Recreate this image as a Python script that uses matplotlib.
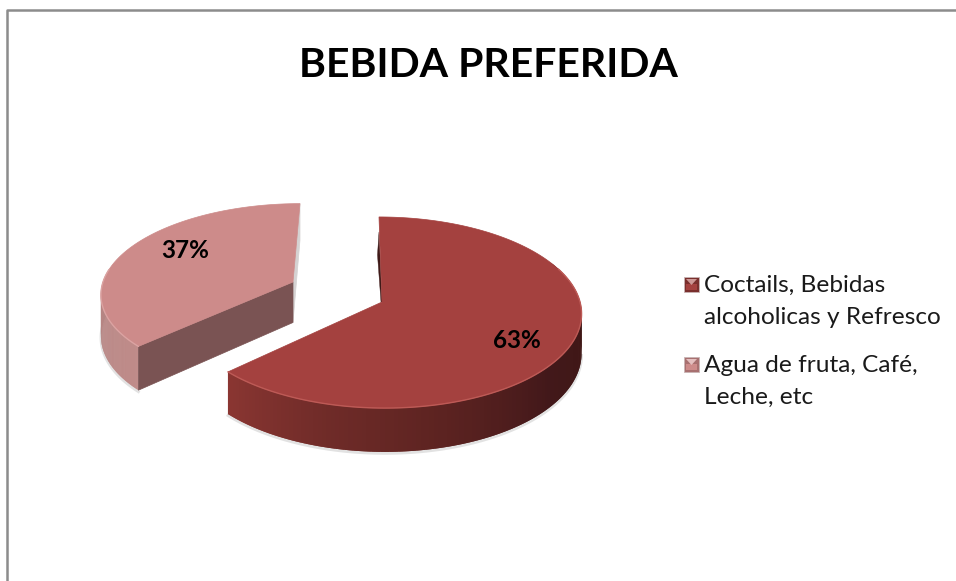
import numpy as np
import matplotlib
matplotlib.use("Agg")
import matplotlib.pyplot as plt
from matplotlib.colors import to_rgb
from matplotlib.patches import Rectangle, Polygon

plt.rcParams["font.family"] = ["Lato", "DejaVu Sans"]

titulo = "BEBIDA PREFERIDA"
categorias = ["Coctails, Bebidas\nalcoholicas y Refresco", "Agua de fruta, Café,\nLeche, etc"]
valores = [63, 37]
colores = ["#a4413f", "#cd8b8a"]

K = 0.11  # fake perspective


def punto(t, r, g):
    # t clockwise from the top in radians, g holds the wedge geometry
    u = r * np.sin(t)
    v = -r * np.cos(t)
    s = 1 / (1 - K * v)
    x = g["cx"] + g["rx"] * u * s + g["shear"] * v
    y = g["cy"] + g["ry"] * v * s
    return x, y, s * g["depth"]


def mezcla(c1, c2, f):
    return tuple(np.array(to_rgb(c1)) * (1 - f) + np.array(to_rgb(c2)) * f)


def pared(ax, t0, t1, g, stops, ts_sombra):
    # outer wall drawn as overlapping slices so the colour can change along it
    ts = np.linspace(t0, t1, 140)
    x, y, d = punto(ts, 1, g)
    xs, ys, ds = punto(ts_sombra, 1, g)
    ax.plot(xs, ys + ds + 1.5, color="#e2e2e2", lw=2, zorder=0.5)
    fs = np.linspace(0, 1, len(stops))
    for i in range(len(ts) - 1):
        f = (i + 0.5) / (len(ts) - 1)
        j = min(np.searchsorted(fs, f, side="right") - 1, len(stops) - 2)
        col = mezcla(stops[j], stops[j + 1], (f - fs[j]) / (fs[j + 1] - fs[j]))
        k = min(i + 2, len(ts) - 1)
        ax.fill([x[i], x[i + 1], x[k], x[k], x[i + 1], x[i]],
                [y[i], y[i + 1], y[k], y[k] + d[k], y[i + 1] + d[i + 1], y[i] + d[i]],
                color=col, lw=0)


def cara(ax, t, g, col):
    # flat cut face of the wedge
    x0, y0, d0 = punto(t, 0, g)
    x1, y1, d1 = punto(t, 1, g)
    ax.fill([x0, x1, x1, x0], [y0, y1, y1 + d1, y0 + d0], color=col, lw=0.5)


def tapa(ax, t0, t1, g, col, brillo, b0, b1):
    ts = np.linspace(t0, t1, 200)
    x, y, _ = punto(ts, 1, g)
    ax0, ay0, _ = punto(0.0, 0, g)
    ax.add_patch(Polygon(np.column_stack([np.r_[ax0, x], np.r_[ay0, y]]),
                         closed=True, facecolor=col, edgecolor=col, lw=0.5))
    # light rim only along the front edge
    tb = np.linspace(b0, b1, 120)
    xb, yb, _ = punto(tb, 1, g)
    ax.plot(xb, yb, color=brillo, lw=1.0, solid_capstyle="round")


fig = plt.figure(figsize=(9.56, 5.81), dpi=100)
ax = fig.add_axes([0, 0, 1, 1])
ax.set_xlim(0, 956)
ax.set_ylim(581, 0)
ax.axis("off")

# chart frame, only top and left show in the crop
ax.plot([7, 7, 956], [581, 10, 10], color="#8c8c8c", lw=1.8)

ax.text(488.5, 77, titulo, fontsize=29.5, fontweight="bold", color="black",
        ha="center", va="baseline")

fin = 2 * np.pi * valores[0] / sum(valores)
geo_rojo = {"cx": 382, "cy": 302, "rx": 198, "ry": 94.4, "shear": 3, "depth": 39}
geo_rosa = {"cx": 293, "cy": 282, "rx": 190, "ry": 87, "shear": -7, "depth": 40.5}

# light wedge
cara(ax, 2 * np.pi, geo_rosa, "#d5d2d2")
pared(ax, fin, fin + 0.85, geo_rosa, ["#c08c8a", "#b88684", "#b58583"],
      np.linspace(fin, fin + 0.85, 60))
cara(ax, fin, geo_rosa, "#7a5353")
tapa(ax, fin, 2 * np.pi, geo_rosa, colores[1], "#dba3a2", fin, fin + 0.9)

# dark wedge
x0, y0, _ = punto(0.0, 0, geo_rojo)
x1, y1, _ = punto(0.0, 1, geo_rojo)
ax.fill([x0, x1, x1 - 1.5, x0 - 1], [y0, y1 + 15, y1 + 38, y0], color="#3f1a18", lw=0.3)
pared(ax, 1.12, fin, geo_rojo, ["#451917", "#3f1715", "#42181a", "#5a2220", "#6f2b28", "#8a3632"],
      np.linspace(1.7, fin, 120))
tapa(ax, 0.0, fin, geo_rojo, colores[0], "#bd5a56", 1.2, fin)

for valor, (lx, ly) in zip(valores, [(517, 340), (185, 251)]):
    ax.text(lx, ly, f"{valor}%", fontsize=17.5, fontweight="bold", color="black",
            ha="center", va="center")

# legend
for cat, col, oscuro, ty, my in zip(categorias, colores, ["#7a2f2d", "#a87070"], [292, 372], [277, 357]):
    ax.add_patch(Rectangle((684, my), 15, 15, facecolor=oscuro, edgecolor="#c9b5b5", lw=0.6))
    ax.add_patch(Rectangle((686, my + 7), 11, 6, facecolor=col, lw=0))
    ax.add_patch(Polygon([(686, my + 2), (697, my + 2), (691.5, my + 8)], closed=True,
                         facecolor=mezcla(col, "white", 0.45), lw=0))
    primera, segunda = cat.split("\n")
    ax.text(704, ty, primera, fontsize=17.6, color="#1a1a1a", va="baseline")
    ax.text(704, ty + 31.5, segunda, fontsize=17.6, color="#1a1a1a", va="baseline")

fig.savefig("out.png", dpi=100)
